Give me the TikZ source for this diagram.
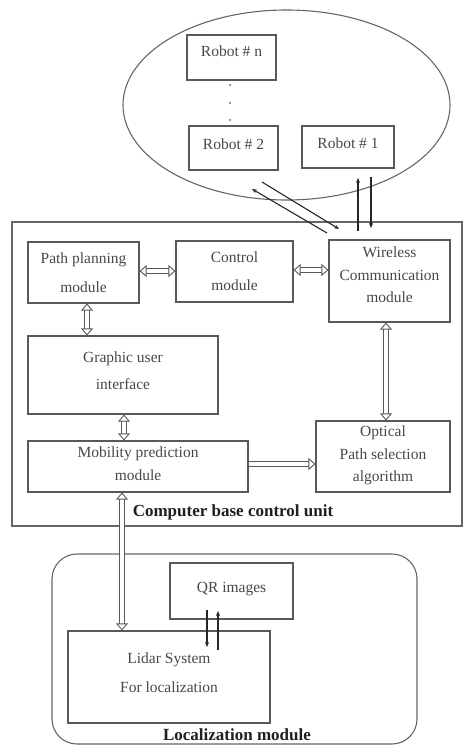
\documentclass[tikz,border=0pt]{standalone}
\usepackage{fontspec}
\setmainfont{Liberation Serif}
\usetikzlibrary{arrows.meta,shapes.geometric}
\begin{document}
\begin{tikzpicture}[x=1pt,y=-1pt,
  box/.style={draw=black!65, line width=1.1pt, rectangle, inner sep=0pt, align=center,
    text=black!72, font=\fontsize{15.5}{23}\selectfont},
  frame/.style={draw=black!60, line width=1.1pt, inner sep=0pt},
  lbl/.style={text=black!88, inner sep=0pt, font=\fontsize{17}{20}\selectfont\bfseries},
  harrow/.style={double=white, double distance=4pt, line width=0.9pt, draw=black!65},
  htip/.tip={Triangle[open, length=7pt, width=12pt, line width=0.9pt]},
  thinarrow/.style={draw=black!85, line width=1.1pt, -{Stealth[length=5pt,width=4pt]}},
  dotmark/.style={fill=black!55}
]
\useasboundingbox (0,0) rectangle (463,746);

% enclosing shapes
\node[frame, ellipse, minimum width=327pt, minimum height=190pt] (fleet) at (286.5,105) {};
\node[frame, rectangle, minimum width=450pt, minimum height=304pt] (cbcu) at (237,374) {};
\node[frame, rectangle, rounded corners=25pt, minimum width=365pt, minimum height=190pt] (loc) at (234.5,649) {};

% robots
\node[box, minimum width=89pt, minimum height=45pt] (rn) at (231.5,57.5) {Robot \# n\rule[-12pt]{0pt}{1pt}};
\node[box, minimum width=89pt, minimum height=44pt] (r2) at (233.5,148) {Robot \# 2\rule[-8pt]{0pt}{1pt}};
\node[box, minimum width=92pt, minimum height=42pt] (r1) at (348,147) {Robot \# 1\rule[-8pt]{0pt}{1pt}};
\fill[dotmark] (230,85) circle (1.2pt);
\fill[dotmark] (230,103) circle (1.2pt);
\fill[dotmark] (230,120) circle (1.2pt);

% control unit modules
\node[box, minimum width=111pt, minimum height=61pt, font=\fontsize{15.5}{29}\selectfont] (pp) at (83.5,272.5) {Path planning\\module};
\node[box, minimum width=117pt, minimum height=61pt, font=\fontsize{15.5}{28}\selectfont] (ctrl) at (234.5,271.5) {Control\\module};
\node[box, minimum width=121pt, minimum height=82pt, font=\fontsize{15.5}{22.5}\selectfont] (wl) at (389.5,281) {Wireless\\Communication\\module\rule[-12pt]{0pt}{1pt}};
\node[box, minimum width=190pt, minimum height=78pt, font=\fontsize{15.5}{27}\selectfont] (gui) at (123,375) {Graphic user\\interface\rule[-8pt]{0pt}{1pt}};
\node[box, minimum width=220pt, minimum height=51pt, font=\fontsize{15.5}{23}\selectfont] (mob) at (138,466.5) {Mobility prediction\\module\rule[-5pt]{0pt}{1pt}};
\node[box, minimum width=134pt, minimum height=71pt, font=\fontsize{15.5}{22.5}\selectfont] (opt) at (383,456.5) {Optical\\Path selection\\algorithm\rule[-5pt]{0pt}{1pt}};
\node[lbl] (cbculbl) at (233,512) {Computer base control unit};

% localization
\node[box, minimum width=123pt, minimum height=56pt] (qr) at (231.5,591) {QR images\rule[-8pt]{0pt}{1pt}};
\node[box, minimum width=202pt, minimum height=92pt, font=\fontsize{15.5}{29}\selectfont] (lidar) at (169,677) {Lidar System\\For localization\rule[-9pt]{0pt}{1pt}};
\node[lbl] (loclbl) at (237,735) {Localization module};

% hollow arrows
\draw[harrow, {htip}-{htip}] ([yshift=1.5pt]pp.east) -- ([yshift=1.5pt]pp.east -| ctrl.west);
\draw[harrow, {htip}-{htip}] ([yshift=1.5pt]ctrl.east) -- ([yshift=1.5pt]ctrl.east -| wl.west);
\draw[harrow, {htip}-{htip}] ([xshift=3.5pt]pp.south) -- ([xshift=3.5pt]pp.south |- gui.north);
\draw[harrow, {htip}-{htip}] ([xshift=1pt]gui.south) -- ([xshift=1pt]gui.south |- mob.north);
\draw[harrow, {htip}-{htip}] ([xshift=-3.5pt]wl.south) -- ([xshift=-3.5pt]wl.south |- opt.north);
\draw[harrow, -{htip}] ([yshift=2.5pt]mob.east) -- ([yshift=2.5pt]mob.east -| opt.west);
\draw[harrow, {htip}-{htip}] ([xshift=-16pt]mob.south) -- ([xshift=-16pt]mob.south |- lidar.north);

% thin arrows robots <-> wireless
\coordinate (a1) at (327,233);
\coordinate (a2) at (252,189);
\coordinate (b1) at (262,182);
\coordinate (b2) at (339,229);
\coordinate (c1) at (358,231);
\coordinate (c2) at (358,178);
\coordinate (d1) at (371,177);
\coordinate (d2) at (371,228);
\draw[thinarrow] (a1) -- (a2);
\draw[thinarrow] (b1) -- (b2);
\draw[thinarrow] (c1) -- (c2);
\draw[thinarrow] (d1) -- (d2);

% thin arrows QR <-> lidar
\coordinate (e1) at (207,610);
\coordinate (e2) at (207,647);
\coordinate (f1) at (218,650);
\coordinate (f2) at (218,611);
\draw[thinarrow] (e1) -- (e2);
\draw[thinarrow] (f1) -- (f2);
\end{tikzpicture}
\end{document}
